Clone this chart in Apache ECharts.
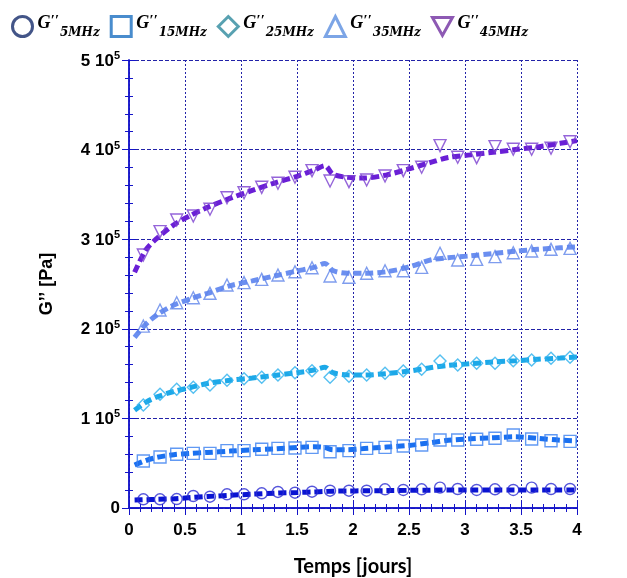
<!DOCTYPE html>
<html>
<head>
<meta charset="utf-8">
<script src="https://cdn.jsdelivr.net/npm/echarts@6/dist/echarts.min.js"></script>
<style>
html,body{margin:0;padding:0;background:#fff;}
#chart{width:627px;height:578px;}
</style>
</head>
<body>
<div id="chart"></div>
<script>
// ---- data (values in Pa / 1000) ----
var seriesNames = ['5MHz', '15MHz', '25MHz', '35MHz', '45MHz'];
var markerDays = [0.128, 0.277, 0.426, 0.574, 0.723, 0.875, 1.027, 1.185, 1.33, 1.482, 1.634, 1.795, 1.964,
  2.122, 2.286, 2.449, 2.613, 2.777, 2.935, 3.104, 3.268, 3.431, 3.595, 3.768, 3.938];
var g5 = [9.7, 9.7, 10, 13.4, 12.6, 15.3, 15.3, 16.4, 17.9, 17.1, 18.2, 19.3, 19.3,
  19.3, 20.9, 20.1, 20.9, 22.7, 21.2, 20.1, 20.9, 20.1, 22.7, 21.2, 21.2];
var g15 = [52.5, 57, 60, 61, 61, 64, 64, 65.5, 66.6, 67, 67.7, 62.8, 64,
  66.6, 67.7, 69.2, 70.3, 75.9, 75.9, 76.7, 77.8, 81.5, 77, 75.1, 74.4];
var g25 = [115, 126.9, 132.5, 134.7, 137.3, 142.5, 144.3, 145.9, 148.4, 151, 153.2, 145.9, 147,
  148.4, 150.3, 152.9, 154.8, 164.1, 159.6, 161.5, 161.5, 164.4, 165.2, 167.1, 168.2];
var g35 = [203, 221, 229.1, 234.7, 239.6, 248.9, 251.5, 255.2, 260, 263.7, 268.2, 258.9, 257.5,
  262, 264.8, 264.8, 268.6, 284.3, 276.8, 277.5, 280.5, 284.9, 286.8, 288.7, 289.8];
var g45 = [282.4, 308.4, 321.4, 325.9, 333.4, 346.3, 351.9, 357.9, 362.4, 369.1, 376.5, 365, 364.2,
  366.1, 370.5, 376.5, 380.3, 404.4, 391.4, 391, 403.3, 400.4, 400.4, 401.5, 408.8];

var fitDays = [0.05, 0.15, 0.25, 0.4, 0.55, 0.7, 0.9, 1.1, 1.3, 1.5, 1.65, 1.75, 1.82, 1.95,
  2.1, 2.3, 2.5, 2.7, 2.85, 3.05, 3.25, 3.45, 3.65, 3.85, 4.0];
var fit5 = [8.9, 9.3, 9.7, 10.3, 11.6, 12.8, 14.2, 15.4, 16.5, 17.3, 17.9, 18.4, 18.8, 19,
  19.2, 19.4, 19.7, 19.9, 20.1, 20.1, 20.1, 20.1, 20.1, 20.1, 20.1];
var fit15 = [48, 53, 56.5, 59.5, 61, 62, 63.5, 65, 66, 67.6, 68.4, 67.5, 65, 65,
  66.3, 68, 69.8, 73, 75.6, 77.2, 78.4, 79.5, 77.7, 75.7, 75];
var fit25 = [109, 118, 124, 130, 134.5, 139, 142.5, 145, 148, 151, 154, 157, 151, 148.6,
  148.4, 150, 152.8, 156.8, 159.2, 161, 163, 164.3, 166, 167.3, 168.4];
var fit35 = [190.5, 205, 215.5, 226.5, 233.5, 239.5, 248, 253.5, 259, 264.5, 268.5, 273, 265, 262,
  262, 263.7, 269, 277, 279.3, 281.4, 284, 286.6, 288.7, 290.4, 291.5];
var fit45 = [263, 288, 301, 316, 326.5, 335.5, 345.5, 354.5, 362.7, 370.2, 377, 382, 372.5, 369,
  368.3, 371.7, 378.5, 386, 391.2, 394.1, 397, 400, 403, 407, 410];

var yTicks = [0, 1, 2, 3, 4, 5]; // x 10^5
var xTicks = [0, 0.5, 1, 1.5, 2, 2.5, 3, 3.5, 4];

// ---- styles ----
var markerValues = [g5, g15, g25, g35, g45];
var fitValues = [fit5, fit15, fit25, fit35, fit45];
var markerColors = ['#2a2ad2', '#3a7ff0', '#2cb0ee', '#5f84ea', '#7a3fd0'];
var lineColors = ['#0a14d2', '#1a70f0', '#1ca8e8', '#6b8ff0', '#6a1fd6'];
var legendColors = ['#142a6a', '#1b6fc0', '#2e8a9e', '#5b8ee0', '#7030a0'];
var symbols = ['circle', 'rect', 'diamond', 'triangle', 'path://M0,0 L10,0 L5,9 Z'];
var symbolSizes = [11, 12, 12, 12, 12];

function pairs(xs, ys) {
  return xs.map(function (x, i) { return [x, ys[i] * 1000]; });
}

var series = [];
for (var i = 0; i < 5; i++) {
  series.push({
    name: seriesNames[i] + '_fit',
    type: 'line',
    data: pairs(fitDays, fitValues[i]),
    showSymbol: false,
    smooth: 0.3,
    z: 2,
    lineStyle: { color: lineColors[i], width: 5, type: [8, 4] },
    silent: true
  });
}
for (var j = 0; j < 5; j++) {
  series.push({
    name: seriesNames[j],
    type: 'scatter',
    data: pairs(markerDays, markerValues[j]),
    symbol: symbols[j],
    symbolSize: symbolSizes[j],
    z: 3,
    itemStyle: { color: 'rgba(255,255,255,0)', borderColor: markerColors[j], borderWidth: 1.4 }
  });
}

var legendData = seriesNames.map(function (n, k) {
  return {
    name: n,
    icon: symbols[k],
    itemStyle: { color: 'rgba(255,255,255,0)', borderColor: legendColors[k], borderWidth: 3 }
  };
});

var axisBlue = '#1414c8';
var gridBlue = '#2222a8';
var tickFont = { fontFamily: 'Liberation Sans', fontWeight: 'bold', fontSize: 17, color: '#000' };
var serifBI = { fontFamily: 'Liberation Serif', fontStyle: 'italic', fontWeight: 'bold', color: '#000', verticalAlign: 'bottom' };

var option = {
  animation: false,
  backgroundColor: '#fff',
  grid: { left: 129, right: 50, top: 60, bottom: 70, containLabel: false, outerBoundsMode: 'none' },
  legend: {
    data: legendData,
    left: 6,
    top: 9,
    itemWidth: 20,
    itemHeight: 20,
    itemGap: 10,
    selectedMode: false,
    formatter: function (name) { return '{g|G}{p|\u2032\u2032}{s|' + name + '}'; },
    textStyle: {
      rich: {
        g: Object.assign({ fontSize: 18, padding: [0, 0, 7, 0] }, serifBI),
        p: Object.assign({ fontSize: 15, padding: [0, 1, 10, 0] }, serifBI),
        s: { fontFamily: 'DejaVu Serif', fontStyle: 'italic', fontWeight: 'bold', fontSize: 12, color: '#000', verticalAlign: 'bottom' }
      }
    }
  },
  xAxis: [{
    type: 'value', min: 0, max: 4, interval: 0.5, position: 'bottom',
    name: 'Temps [jours]', nameLocation: 'middle', nameGap: 49,
    nameTextStyle: { fontFamily: 'Lato', fontWeight: 'bold', fontSize: 20, color: '#000' },
    axisLine: { show: true, lineStyle: { color: axisBlue, width: 1.5 } },
    axisTick: { show: true, inside: true, length: 7, lineStyle: { color: axisBlue } },
    minorTick: { show: true, splitNumber: 5, length: 4, lineStyle: { color: axisBlue } },
    axisLabel: Object.assign({ margin: 14, formatter: function (v) { return xTicks.indexOf(v) >= 0 ? String(v) : ''; } }, tickFont),
    splitLine: { show: true, lineStyle: { color: gridBlue, type: [2, 2], width: 1 } }
  }, {
    type: 'value', min: 0, max: 4, interval: 0.5, position: 'top',
    axisLine: { show: true, lineStyle: { color: axisBlue, width: 1.5 } },
    axisTick: { show: true, inside: true, length: 7, lineStyle: { color: axisBlue } },
    minorTick: { show: true, splitNumber: 5, length: 4, lineStyle: { color: axisBlue } },
    axisLabel: { show: false },
    splitLine: { show: false }
  }],
  yAxis: [{
    type: 'value', min: 0, max: 500000, interval: 100000, position: 'left',
    name: 'G\u2019\u2019 [Pa]', nameLocation: 'middle', nameGap: 73, nameRotate: 90,
    nameTextStyle: { fontFamily: 'Liberation Sans', fontWeight: 'bold', fontSize: 18, color: '#000' },
    axisLine: { show: true, lineStyle: { color: axisBlue, width: 1.5 } },
    axisTick: { show: true, inside: true, length: 7, lineStyle: { color: axisBlue } },
    minorTick: { show: true, splitNumber: 5, length: 4, lineStyle: { color: axisBlue } },
    axisLabel: {
      margin: 9,
      formatter: function (v) {
        var n = Math.round(v / 100000);
        if (yTicks.indexOf(n) < 0) return '';
        return n === 0 ? '{n|0}' : '{n|' + n + ' 10}{s|5}';
      },
      rich: {
        n: { fontFamily: 'Liberation Sans', fontWeight: 'bold', fontSize: 17, color: '#000', verticalAlign: 'bottom' },
        s: { fontFamily: 'Liberation Sans', fontWeight: 'bold', fontSize: 11, color: '#000', padding: [0, 0, 8, 0], verticalAlign: 'bottom' }
      }
    },
    splitLine: { show: true, lineStyle: { color: gridBlue, type: [4, 2], width: 1 } }
  }, {
    type: 'value', min: 0, max: 500000, interval: 100000, position: 'right',
    axisLine: { show: true, lineStyle: { color: axisBlue, width: 1.5 } },
    axisTick: { show: true, inside: true, length: 7, lineStyle: { color: axisBlue } },
    minorTick: { show: true, splitNumber: 5, length: 4, lineStyle: { color: axisBlue } },
    axisLabel: { show: false },
    splitLine: { show: false }
  }],
  series: series
};

var chart = echarts.init(document.getElementById('chart'), null, { renderer: 'canvas' });
chart.setOption(option);
</script>
</body>
</html>
